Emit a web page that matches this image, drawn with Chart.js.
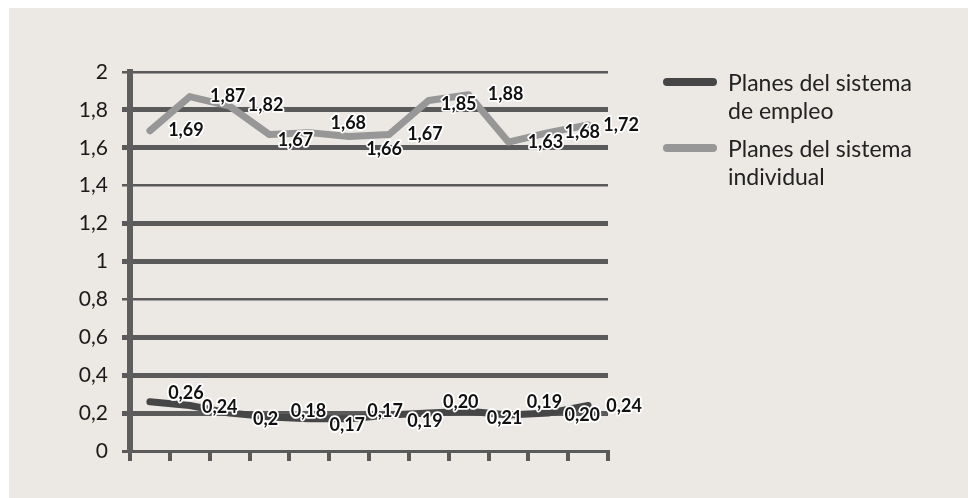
<!DOCTYPE html>
<html>
<head>
<meta charset="utf-8">
<script src="https://cdn.jsdelivr.net/npm/chart.js@4.4.1/dist/chart.umd.min.js"></script>
<style>
  body { margin: 0; background: #fff; }
  #wrap { position: relative; width: 968px; height: 498px; overflow: hidden; }
  #bg { position: absolute; left: 9px; top: 8px; right: 0; bottom: 0; background: #ece8e4; }
  #lineChart { position: absolute; left: 0; top: 0; }
  #legend { position: absolute; left: 663px; top: 68px; font-family: Lato, sans-serif; font-size: 23px; color: #222; }
  .item { position: relative; padding-left: 65px; width: 200px; line-height: 28px; margin-bottom: 10px; }
  .swatch { position: absolute; left: 0; top: 10px; width: 54px; height: 8px; border-radius: 4px; }
</style>
</head>
<body>
<div id="wrap">
  <div id="bg"></div>
  <canvas id="lineChart" width="968" height="498"></canvas>
  <div id="legend"></div>
</div>
<script>
// twelve periods, values as printed on the labels
const periods = ['1', '2', '3', '4', '5', '6', '7', '8', '9', '10', '11', '12'];
const empleoText = ['0,26', '0,24', '0,2', '0,18', '0,17', '0,17', '0,19', '0,20', '0,21', '0,19', '0,20', '0,24'];
const individualText = ['1,69', '1,87', '1,82', '1,67', '1,68', '1,66', '1,67', '1,85', '1,88', '1,63', '1,68', '1,72'];
const yTicks = [0, 0.2, 0.4, 0.6, 0.8, 1, 1.2, 1.4, 1.6, 1.8, 2];

const toNumber = s => parseFloat(s.replace(',', '.'));

// label nudges (dx, dy) next to each point
const empleoShift = [[36, -9], [30, 2], [36, 6], [39, -6], [38, 6], [36, -8], [36, 6], [32, -11], [36, 7], [36, -13], [34, 2], [36, 1]];
const individualShift = [[36, -1], [38, 0], [36, -1], [26, 6], [39, -9], [35, 13], [36, 0], [30, 4], [37, -1], [37, 0], [34, 0], [33, 0]];

// grid line weights, bottom to top
const gridWidths = [3, 5, 5, 5, 2.5, 5, 5, 2.5, 5, 5, 2.5];

const valueLabels = {
    id: 'valueLabels',
    afterDatasetsDraw(chart) {
        const ctx = chart.ctx;
        ctx.save();
        ctx.font = 'bold 18px Lato, sans-serif';
        ctx.textAlign = 'center';
        ctx.textBaseline = 'middle';
        ctx.lineJoin = 'round';
        chart.data.datasets.forEach((ds, di) => {
            const meta = chart.getDatasetMeta(di);
            meta.data.forEach((pt, i) => {
                const [dx, dy] = ds.labelShift[i];
                const x = pt.x + dx, y = pt.y + dy;
                ctx.strokeStyle = '#ffffff';
                ctx.lineWidth = 3.5;
                ctx.strokeText(ds.labelText[i], x, y);
                ctx.fillStyle = '#111';
                ctx.fillText(ds.labelText[i], x, y);
            });
        });
        ctx.restore();
    }
};

const data = {
    labels: periods,
    datasets: [{
        label: 'Planes del sistema de empleo',
        data: empleoText.map(toNumber),
        labelText: empleoText,
        labelShift: empleoShift,
        borderColor: '#464646',
        backgroundColor: '#464646',
    }, {
        label: 'Planes del sistema individual',
        data: individualText.map(toNumber),
        labelText: individualText,
        labelShift: individualShift,
        borderColor: '#979797',
        backgroundColor: '#979797',
    }]
};

const config = {
    type: 'line',
    data,
    options: {
        responsive: false,
        animation: false,
        layout: { padding: { top: 72, right: 360, left: 0, bottom: 0 } },
        elements: {
            line: { borderWidth: 7, tension: 0, borderCapStyle: 'round', borderJoinStyle: 'round' },
            point: { radius: 0 }
        },
        plugins: {
            legend: { display: false },
            tooltip: { enabled: false }
        },
        scales: {
            x: {
                offset: true,
                grid: {
                    offset: true,
                    drawOnChartArea: false,
                    drawTicks: true,
                    tickLength: 10,
                    lineWidth: 4,
                    color: '#5a5a5a'
                },
                border: { display: true, width: 3, color: '#5a5a5a' },
                ticks: { display: false },
                afterFit(scale) { scale.height = 47; }
            },
            y: {
                min: 0,
                max: 2,
                afterBuildTicks(scale) { scale.ticks = yTicks.map(v => ({ value: v })); },
                grid: {
                    color: '#5a5a5a',
                    lineWidth: c => gridWidths[c.index] || 3,
                    tickLength: 8
                },
                border: { display: true, width: 6, color: '#5e5e5e' },
                ticks: {
                    padding: 14,
                    color: '#1a1a1a',
                    font: { family: 'Lato', size: 21 },
                    callback: v => v.toFixed(1).replace(/\.0$/, '').replace('.', ',')
                },
                afterFit(scale) { scale.width = 130; }
            }
        }
    },
    plugins: [valueLabels]
};

window.addEventListener('load', function () {
    const chart = new Chart(document.getElementById('lineChart').getContext('2d'), config);
    const legend = document.getElementById('legend');
    chart.data.datasets.forEach(ds => {
        const item = document.createElement('div');
        item.className = 'item';
        const sw = document.createElement('span');
        sw.className = 'swatch';
        sw.style.background = ds.borderColor;
        item.appendChild(sw);
        item.appendChild(document.createTextNode(ds.label));
        legend.appendChild(item);
    });
});
</script>
</body>
</html>
